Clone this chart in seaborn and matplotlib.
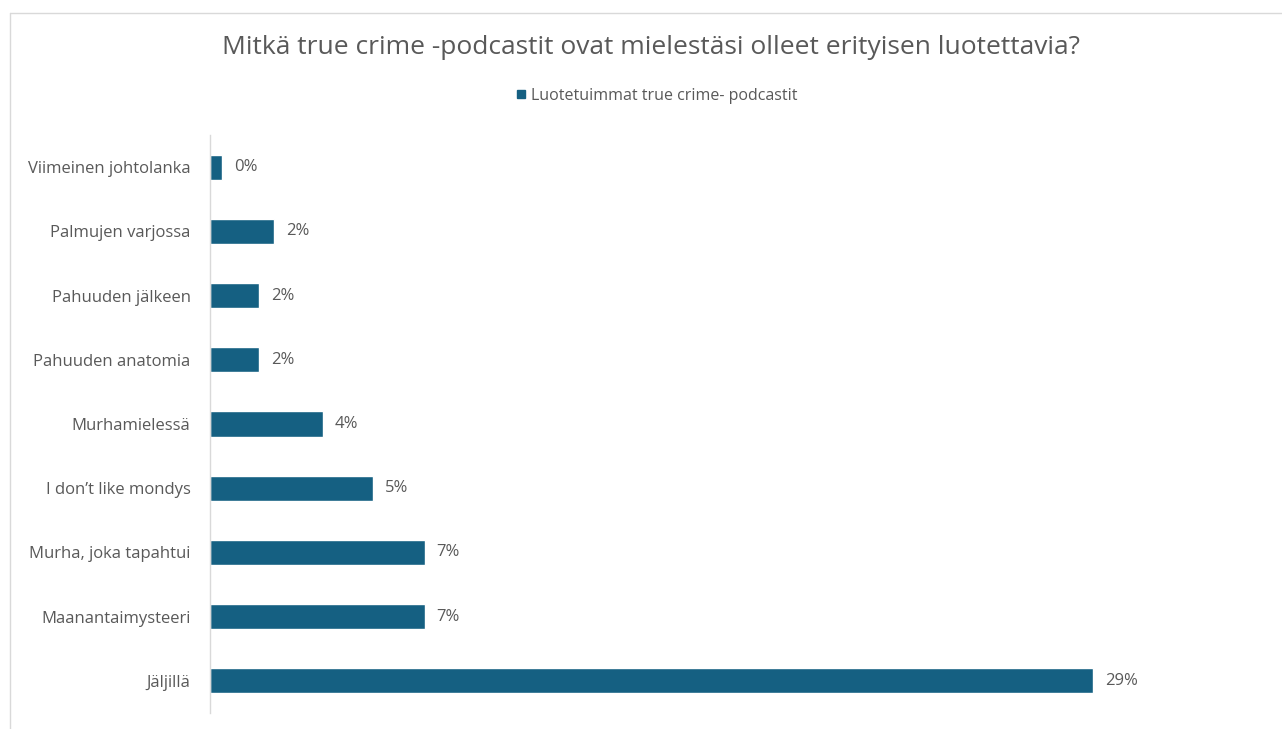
import numpy as np
import pandas as pd
import matplotlib
matplotlib.use("Agg")
import matplotlib.pyplot as plt
from matplotlib.lines import Line2D
import seaborn as sns

# Data (top to bottom as in the chart)
podcasts = [
    "Viimeinen johtolanka",
    "Palmujen varjossa",
    "Pahuuden jälkeen",
    "Pahuuden anatomia",
    "Murhamielessä",
    "I don’t like mondys",
    "Murha, joka tapahtui",
    "Maanantaimysteeri",
    "Jäljillä",
]
shares = [0.004, 0.021, 0.016, 0.016, 0.037, 0.0535, 0.0705, 0.0705, 0.290]

TITLE = "Mitkä true crime -podcastit ovat mielestäsi olleet erityisen luotettavia?"
SERIES = "Luotetuimmat true crime- podcastit"

BAR_COLOUR = "#156082"
TEXT_COLOUR = "#595959"
W, H = 1282, 729

sns.set_style("white")
plt.rcParams['font.family'] = ['Open Sans', 'DejaVu Sans']

df = pd.DataFrame({"Podcast": podcasts, "Share": shares})

fig = plt.figure(figsize=(W / 100, H / 100), dpi=100)

# axes placed in pixel coords: left 210, right 1240, top 135, bottom 713
left, right, top, bottom = 210, 1240, 135, 713
ax = fig.add_axes([left / W, 1 - bottom / H, (right - left) / W, (bottom - top) / H])

sns.barplot(data=df, x="Share", y="Podcast", order=podcasts, color=BAR_COLOUR,
            width=0.39, saturation=1, ax=ax)

# scale so that 29% ends at x=1093
xmax = 0.29 * (right - left) / (1093 - left)
ax.set_xlim(0, xmax)
ax.set_ylim(len(podcasts) - 0.5, -0.5)

for i, v in enumerate(shares):
    ax.text(v + xmax * 12 / (right - left), i, f"{v * 100:.0f}%", va="center", ha="left",
            fontsize=12, color=TEXT_COLOUR)

ax.set_xlabel("")
ax.set_ylabel("")
ax.set_xticks([])
ax.tick_params(axis="y", length=0, pad=14, labelsize=12, labelcolor=TEXT_COLOUR)
for s in ["top", "right", "bottom"]:
    ax.spines[s].set_visible(False)
ax.spines["left"].set_color("#d9d9d9")
ax.spines["left"].set_linewidth(1)

# title and legend
fig.text(651 / W, 1 - 47 / H, TITLE, ha="center", va="center", fontsize=19, color=TEXT_COLOUR)
handle = Line2D([], [], marker="s", linestyle="", color=BAR_COLOUR, markersize=6)
fig.legend([handle], [SERIES], loc="center", bbox_to_anchor=(656 / W, 1 - 96 / H),
           frameon=False, fontsize=11.5, labelcolor=TEXT_COLOUR, handletextpad=0.2,
           handlelength=0.8)

# light chart frame (top and left edges)
fig.add_artist(Line2D([10 / W, 1], [1 - 13 / H, 1 - 13 / H], color="#d9d9d9", lw=1))
fig.add_artist(Line2D([10 / W, 10 / W], [0, 1 - 13 / H], color="#d9d9d9", lw=1))

plt.savefig("out.png", dpi=100)
